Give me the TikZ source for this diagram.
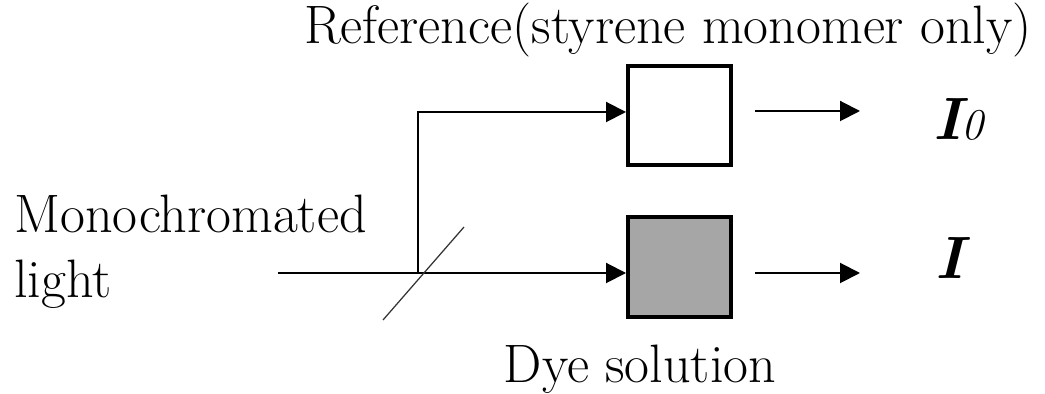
\documentclass[tikz,border=0pt]{standalone}
\usetikzlibrary{arrows.meta}
\begin{document}
\begin{tikzpicture}[x=0.02cm,y=-0.02cm,
  lbl/.style={inner sep=0pt,font=\fontsize{30.8}{36}\selectfont},
  sym/.style={inner sep=0pt,font=\fontsize{34}{40}\selectfont\bfseries\itshape},
  cell/.style={draw,line width=0.08cm,minimum width=2.06cm,minimum height=1.99cm,inner sep=0pt},
  arr/.style={line width=0.04cm,-{Triangle[length=0.4cm,width=0.4cm]}},
  beam/.style={line width=0.04cm}]
\useasboundingbox (0,0) rectangle (1045,394);
\node[cell] (ref) at (679.5,115.5) {};
\node[cell,fill={rgb,255:red,166;green,166;blue,166}] (dye) at (679.5,267) {};
\node[lbl,anchor=base] (reftxt) at (668,44) {Reference(styrene monomer only)};
\node[lbl,anchor=base] (dyetxt) at (640,383) {Dye solution};
\node[lbl,anchor=base west] (mono) at (14,233) {Monochromated};
\node[lbl,anchor=base west] (light) at (14,298) {light};
\node[sym,anchor=base west] (i0) at (933,140) {I{\fontsize{25}{30}\selectfont\mdseries 0}};
\node[sym,anchor=base west] (i) at (935,279) {I};
\coordinate (src) at (278,273);
\coordinate (split) at (418,273);
\coordinate (m1) at (383,320);
\coordinate (m2) at (464,227);
\coordinate (o1s) at (755,111);
\coordinate (o1e) at (860,111);
\coordinate (o2s) at (755,273);
\coordinate (o2e) at (860,273);
\draw[arr] (src) -- (split) -- (dye.west |- split);
\draw[arr] (split) |- (ref.west |- 0,112);
\draw[line width=0.025cm,black!80] (m1) -- (m2);
\draw[arr] (o1s) -- (o1e);
\draw[arr] (o2s) -- (o2e);
\end{tikzpicture}
\end{document}
